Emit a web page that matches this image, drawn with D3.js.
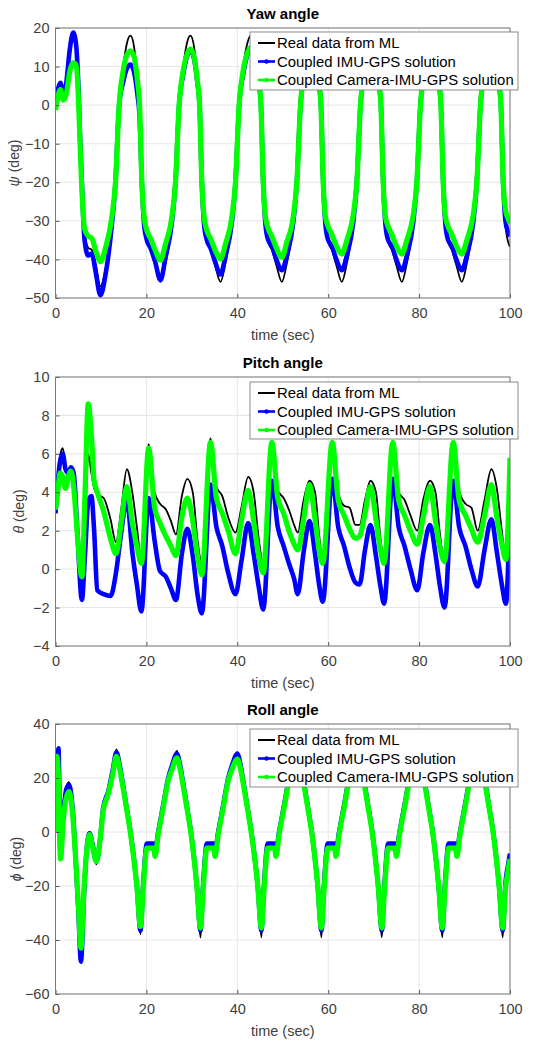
<!DOCTYPE html>
<html>
<head>
<meta charset="utf-8">
<script src="https://cdn.jsdelivr.net/npm/d3@7"></script>
<style>
body { margin: 0; background: #fff; }
text { font-family: "Liberation Sans", Arial, sans-serif; }
</style>
</head>
<body>
<script>
// ---- data ----
var seriesNames = ["Real data from ML", "Coupled IMU-GPS solution", "Coupled Camera-IMU-GPS solution"];

var yawTime = [0, 0.5, 1.1, 1.7, 2.4, 3.1, 3.9, 4.5, 5.0, 5.4, 5.8, 6.4, 7.2, 8.0, 8.8, 9.9,
  11.0, 12.4, 13.2, 14.0, 14.9, 15.7, 16.5, 17.3, 18.0, 18.5, 19.0, 19.5, 20.1, 20.9, 21.9, 23.1,
  24.2, 25.6, 26.4, 27.2, 28.1, 28.9, 29.7, 30.5, 31.2, 31.7, 32.2, 32.7, 33.3, 34.1, 35.1, 36.3,
  37.4, 38.8, 39.6, 40.4, 41.3, 42.2, 43.0, 43.9, 44.7, 45.2, 45.7, 46.2, 46.8, 47.6, 48.6, 49.8,
  50.9, 52.3, 53.1, 53.9, 54.8, 55.6, 56.4, 57.2, 57.9, 58.4, 58.9, 59.4, 60.0, 60.8, 61.8, 63.0,
  64.1, 65.5, 66.3, 67.1, 68.0, 68.8, 69.6, 70.4, 71.1, 71.6, 72.1, 72.6, 73.2, 74.0, 75.0, 76.2,
  77.3, 78.7, 79.5, 80.3, 81.2, 82.0, 82.8, 83.6, 84.3, 84.8, 85.3, 85.8, 86.4, 87.2, 88.2, 89.4,
  90.5, 91.9, 92.7, 93.5, 94.4, 95.2, 96.0, 96.8, 97.5, 98.0, 98.5, 99.0, 99.6, 100];
var yawReal = [0, 3, 5.5, 2, 6, 14, 18.5, 15, 5, -10, -22, -33, -37, -37.5, -41, -47,
  -42.5, -31, -20, 0, 10, 16, 18, 15, 7, 0, -20, -31, -35.5, -37.5, -41.5, -45.8,
  -41, -31, -20, 0, 10, 16, 18, 15, 7, 0, -20, -31, -35.5, -37.5, -41.5, -45.8,
  -41, -31, -20, 0, 10, 16, 18, 15, 7, 0, -20, -31, -35.5, -37.5, -41.5, -45.8,
  -41, -31, -20, 0, 10, 16, 18, 15, 7, 0, -20, -31, -35.5, -37.5, -41.5, -45.8,
  -41, -31, -20, 0, 10, 16, 18, 15, 7, 0, -20, -31, -35.5, -37.5, -41.5, -45.8,
  -41, -31, -20, 0, 10, 16, 18, 15, 7, 0, -20, -31, -35.5, -37.5, -41.5, -45.8,
  -41, -31, -20, 0, 10, 16, 18, 15, 7, 0, -20, -31, -35.5, -36.7];
var yawImu = [0.5, 4, 5.8, 1.8, 6, 14, 18.8, 16, 6, -8, -20, -35, -39, -38.5, -43, -49.3,
  -44, -31, -20, 0, 6, 9.5, 10.5, 8.5, 3, -3, -20, -31, -35, -37, -40.5, -45.4,
  -39.5, -30.5, -20, 0, 8, 12.5, 14, 12, 6, 0, -20, -31, -35, -37, -40.5, -43.9,
  -39, -30.5, -20, 0, 8, 13, 14.5, 12.5, 6, 0, -20, -31, -35, -36.5, -40, -42.8,
  -39, -30.5, -20, 0, 8, 13, 14.5, 12.5, 6, 0, -20, -31, -35, -36.5, -40, -42.8,
  -39, -30.5, -20, 0, 8, 13, 14.5, 12.5, 6, 0, -20, -31, -35, -36.5, -40, -42.8,
  -39, -30.5, -20, 0, 8, 13, 14.5, 12.5, 6, 0, -20, -31, -35, -36.5, -40, -42.8,
  -39, -30.5, -20, 0, 8, 13, 14.5, 12.5, 6, 0, -20, -30, -33, -34];
var yawCam = [-1.3, 2, 4, 1.3, 3, 8.5, 11, 10.5, 3, -10, -22, -32, -34, -34.5, -37.5, -40.6,
  -37, -29, -20, 0, 9, 13, 14, 12.5, 6.5, 0, -20, -29, -32.5, -34.5, -37.5, -40.2,
  -36, -29, -20, 0, 9, 13, 14.5, 12.5, 6.5, 0, -20, -29, -32.5, -34.5, -37.5, -39.9,
  -36, -29, -20, 0, 9, 13.5, 15, 13, 6.5, 0, -20, -29, -32, -34, -37, -39.5,
  -35.5, -29, -20, 0, 9, 13.5, 15, 13, 6.5, 0, -20, -29, -31.5, -33.5, -36.5, -38.6,
  -35, -28.5, -20, 0, 9, 13.5, 15, 13, 6.5, 0, -20, -29, -31.5, -33.5, -36.5, -38.6,
  -35, -28.5, -20, 0, 9, 13.5, 15, 13, 6.5, 0, -20, -29, -31.5, -33.5, -36.5, -38.6,
  -35, -28.5, -20, 0, 9, 13.5, 15, 13, 6.5, 0, -20, -27, -29.5, -30.6];

var pitchTime = [0, 0.5, 1.0, 1.6, 2.2, 2.8, 3.4, 4.0, 4.8, 5.8, 6.5, 7.2, 7.9, 8.5, 9.2,
  10.6, 12.1, 13.3, 14.4, 15.7, 16.9, 17.9, 18.9, 20.5, 21.8, 23.0, 24.3, 25.4, 26.5,
  27.8, 29.0, 30.2, 31.3, 32.2, 34.1, 35.4, 36.7, 38.0, 39.6, 40.9, 42.4, 43.6, 44.7, 45.7,
  47.6, 48.9, 50.2, 51.5, 52.5, 53.3, 54.6, 55.9, 57.1, 58.0, 58.8, 60.9, 62.2, 63.5, 64.7,
  66.0, 66.9, 68.1, 69.3, 70.5, 71.5, 72.3, 74.2, 75.5, 76.8, 78.1, 79.6, 80.9, 82.4, 83.6,
  84.6, 85.6, 87.5, 88.8, 90.2, 91.5, 92.9, 94.4, 95.9, 97.1, 98.2, 99.1, 100];
var pitchReal = [3.0, 4.8, 5.9, 6.3, 5.4, 5.0, 5.3, 4.8, 2.0, -1.2, 2.0, 6.0, 5.0, 4.2, 3.9,
  3.7, 2.6, 1.4, 3.0, 5.2, 4.0, 2.2, 0.5, 6.5, 4.0, 3.4, 3.1, 2.5, 1.8,
  3.8, 4.7, 4.0, 1.4, 0.3, 6.8, 4.3, 3.8, 2.7, 1.9, 3.2, 4.8, 4.0, 1.6, 0.3,
  6.5, 4.1, 3.7, 3.0, 2.3, 1.9, 3.6, 4.6, 4.0, 1.8, 0.4, 6.6, 4.0, 3.3, 3.2,
  2.3, 2.3, 3.6, 4.6, 4.0, 1.6, 0.4, 6.6, 4.0, 3.6, 2.8, 2.0, 3.6, 4.6, 4.0,
  1.8, 0.3, 6.6, 4.1, 3.4, 3.2, 2.0, 3.6, 5.2, 4.2, 2.0, 0.4, 2.0];
var pitchImu = [2.9, 4.5, 5.6, 6.0, 5.2, 5.0, 5.3, 5.0, 2.0, -1.6, 0.8, 3.5, 3.8, 2.0, -1.1,
  -1.3, -1.4, -0.2, 1.8, 3.6, 0.9, -0.8, -2.2, 3.7, 1.5, -0.1, -0.4, -1.0, -1.6,
  0.8, 2.1, 0.7, -1.4, -2.3, 4.4, 2.2, 1.2, -0.2, -1.3, 0.4, 2.4, 0.8, -0.9, -2.1,
  4.6, 2.2, 1.2, 0.2, -0.5, -1.3, 0.9, 2.5, 0.8, -0.8, -1.7, 4.7, 2.2, 1.2, 0.1,
  -0.7, -0.8, 1.0, 2.3, 0.7, -0.9, -1.8, 4.7, 2.2, 1.2, 0.0, -1.1, 0.8, 2.3, 0.8,
  -0.9, -2.0, 4.6, 2.2, 1.2, 0.0, -0.9, 1.0, 2.6, 0.9, -0.8, -1.8, 3.7];
var pitchCam = [3.1, 4.0, 5.0, 4.8, 4.2, 4.8, 5.1, 4.3, 1.8, -0.4, 4.0, 8.6, 7.0, 4.6, 4.0,
  3.0, 1.6, 0.8, 2.3, 4.3, 2.4, 1.2, 0.3, 6.3, 3.2, 2.4, 1.7, 1.2, 0.7,
  2.7, 3.7, 2.5, 0.6, -0.3, 6.6, 3.7, 2.9, 2.0, 0.8, 2.5, 4.1, 2.5, 0.7, -0.2,
  6.6, 3.7, 2.9, 1.9, 1.3, 1.0, 2.6, 4.4, 2.6, 1.0, 0.3, 6.6, 3.6, 2.8, 2.1,
  1.6, 1.7, 2.9, 4.3, 2.6, 1.0, 0.3, 6.6, 3.6, 2.8, 2.0, 1.3, 2.7, 4.3, 2.5,
  1.1, 0.4, 6.6, 3.6, 2.8, 2.1, 1.4, 2.8, 4.4, 2.7, 1.3, 0.5, 5.8];

var rollTime = [0, 0.3, 0.65, 1.1, 1.7, 2.4, 3.0, 3.8, 4.5, 5.0, 5.6, 6.3, 7.0, 7.5, 8.2, 9.0, 9.8, 10.5, 11.6, 12.6, 13.4,
  14.1, 14.7, 15.6, 16.5, 17.9, 18.7, 19.3, 20.1, 21.6, 21.9, 22.6, 23.7, 24.8, 25.7, 26.7,
  27.4, 28.0, 28.9, 29.8, 31.1, 31.9, 32.5, 33.3, 34.8, 35.1, 35.8, 36.9, 38.0, 38.9, 40.0,
  40.7, 41.3, 42.2, 43.1, 44.5, 45.3, 45.9, 46.7, 48.2, 48.5, 49.2, 50.3, 51.4, 52.3, 53.3,
  54.0, 54.6, 55.5, 56.4, 57.7, 58.5, 59.1, 59.9, 61.4, 61.7, 62.4, 63.5, 64.6, 65.5, 66.6,
  67.3, 67.9, 68.8, 69.7, 71.0, 71.8, 72.4, 73.2, 74.7, 75.0, 75.7, 76.8, 77.9, 78.8, 79.9,
  80.6, 81.2, 82.1, 83.0, 84.3, 85.1, 85.7, 86.5, 88.0, 88.3, 89.0, 90.1, 91.2, 92.1, 93.2,
  93.9, 94.5, 95.4, 96.3, 97.6, 98.4, 99.0, 99.6, 100];
var rollReal = [0, 22, 27, -9, 6, 17, 18.5, 8, -12, -27, -43, -20, -4, 0, -5, -12, -3, 9, 15, 23, 30.6,
  25.5, 19.5, 10, 0, -20, -37.9, -20, -5, -5, -8, 0, 10, 20, 25, 30,
  25, 19, 10, 0, -20, -39.1, -20, -5, -5, -8, 0, 10, 20, 25, 29.6,
  25, 19, 10, 0, -20, -39, -20, -5, -5, -8, 0, 10, 20, 25, 29.5,
  25, 19, 10, 0, -20, -39, -20, -5, -5, -8, 0, 10, 20, 25, 29.5,
  25, 19, 10, 0, -20, -39, -20, -5, -5, -8, 0, 10, 20, 25, 29.5,
  25, 19, 10, 0, -20, -39, -20, -5, -5, -8, 0, 10, 20, 25, 29.5,
  25, 19, 10, 0, -20, -39, -20, -13, -9];
var rollImu = [0, 24, 31, -9, 6, 16, 17.5, 8, -12, -28, -48, -22, -4, -0.5, -5, -11, -3, 9, 15, 23, 29.5,
  25, 19, 9.5, 0, -20, -36.5, -19, -4.3, -4.3, -7, 0, 10, 20, 25, 29,
  25, 19, 9.5, 0, -20, -36.5, -19, -4.3, -4.3, -7, 0, 10, 20, 25, 29,
  25, 19, 9.5, 0, -20, -36.5, -19, -4.3, -4.3, -7, 0, 10, 20, 25, 29,
  25, 19, 9.5, 0, -20, -36.5, -19, -4.3, -4.3, -7, 0, 10, 20, 25, 29,
  25, 19, 9.5, 0, -20, -36.5, -19, -4.3, -4.3, -7, 0, 10, 20, 25, 29,
  25, 19, 9.5, 0, -20, -36.5, -19, -4.3, -4.3, -7, 0, 10, 20, 25, 29,
  25, 19, 9.5, 0, -20, -36.5, -19, -12, -8];
var rollCam = [0, 28, 20, -10, 4, 13, 15, 6, -12, -26, -43, -20, -5, -1, -6, -11, -3, 8, 14, 21.5, 28,
  23.5, 18, 9, -0.5, -20, -35, -21, -6, -6, -9, -1, 9, 19, 23.5, 27.5,
  23.5, 18, 9, -0.5, -20, -35.5, -21, -6, -6, -9, -1, 9, 19, 23.5, 27,
  23.5, 18, 9, -0.5, -20, -35.5, -21, -6, -6, -9, -1, 9, 19, 23.5, 27,
  23.5, 18, 9, -0.5, -20, -35.5, -21, -6, -6, -9, -1, 9, 19, 23.5, 27,
  23.5, 18, 9, -0.5, -20, -35.5, -21, -6, -6, -9, -1, 9, 19, 23.5, 27,
  23.5, 18, 9, -0.5, -20, -35.5, -21, -6, -6, -9, -1, 9, 19, 23.5, 27,
  23.5, 18, 9, -0.5, -20, -35.5, -21, -14, -10];

var xTicks = [0, 20, 40, 60, 80, 100];
var yawTicks = [-50, -40, -30, -20, -10, 0, 10, 20];
var pitchTicks = [-4, -2, 0, 2, 4, 6, 8, 10];
var rollTicks = [-60, -40, -20, 0, 20, 40];

// ---- layout ----
var width = 534, height = 1041;
var colors = ["#000000", "#0000ff", "#00ff00"];
var widths = [1.8, 4.6, 5.2];

var svg = d3.select("body").append("svg").attr("width", width).attr("height", height);

var x = d3.scaleLinear().domain([0, 100]).range([55.5, 510]);

var panels = [
  {id: "yaw", title: "Yaw angle", top: 28, bottom: 298, dom: [-50, 20], ticks: yawTicks,
   sym: "\u03c8", labX: 19, time: yawTime, ys: [yawReal, yawImu, yawCam],
   leg: {x: 250, y: 32, w: 268, h: 58}},
  {id: "pitch", title: "Pitch angle", top: 377, bottom: 646, dom: [-4, 10], ticks: pitchTicks,
   sym: "\u03b8", labX: 24, time: pitchTime, ys: [pitchReal, pitchImu, pitchCam],
   leg: {x: 250, y: 382, w: 268, h: 57}},
  {id: "roll", title: "Roll angle", top: 724, bottom: 994, dom: [-60, 40], ticks: rollTicks,
   sym: "\u03d5", labX: 21, time: rollTime, ys: [rollReal, rollImu, rollCam],
   leg: {x: 250, y: 729, w: 268, h: 58}}
];

panels.forEach(function(p) {
  var y = d3.scaleLinear().domain(p.dom).range([p.bottom, p.top]);
  var g = svg.append("g").attr("class", "panel-" + p.id);

  // grid
  g.selectAll(".gx").data(xTicks).enter().append("line")
    .attr("x1", function(d) { return x(d); }).attr("x2", function(d) { return x(d); })
    .attr("y1", p.top).attr("y2", p.bottom)
    .attr("stroke", "#e6e6e6").attr("stroke-width", 1);
  g.selectAll(".gy").data(p.ticks).enter().append("line")
    .attr("x1", x(0)).attr("x2", x(100))
    .attr("y1", function(d) { return y(d); }).attr("y2", function(d) { return y(d); })
    .attr("stroke", "#e6e6e6").attr("stroke-width", 1);

  // clip
  svg.append("clipPath").attr("id", "clip-" + p.id).append("rect")
    .attr("x", x(0)).attr("y", p.top).attr("width", x(100) - x(0)).attr("height", p.bottom - p.top);

  var line = d3.line()
    .x(function(d) { return x(d[0]); })
    .y(function(d) { return y(d[1]); })
    .curve(d3.curveMonotoneX);

  var lines = g.append("g").attr("clip-path", "url(#clip-" + p.id + ")");
  p.ys.forEach(function(vals, k) {
    var pts = p.time.map(function(t, i) { return [t, vals[i]]; });
    lines.append("path").datum(pts)
      .attr("d", line)
      .attr("fill", "none")
      .attr("stroke", colors[k])
      .attr("stroke-width", widths[k])
      .attr("stroke-linejoin", "round");
  });

  // axes
  var yAxis = d3.axisLeft(y).tickValues(p.ticks).tickSizeInner(-4).tickSizeOuter(0).tickPadding(6);
  var xAxis = d3.axisBottom(x).tickValues(xTicks).tickSizeInner(-4).tickSizeOuter(0).tickPadding(10);
  var ya = g.append("g").attr("transform", "translate(" + x(0) + ",0)").call(yAxis);
  var xa = g.append("g").attr("transform", "translate(0," + p.bottom + ")").call(xAxis);
  [ya, xa].forEach(function(a) {
    a.select(".domain").remove();
    a.selectAll("line").attr("stroke", "#555");
    a.selectAll("text").attr("fill", "#404040").style("font-size", "14.5px")
      .style("font-family", "'Liberation Sans', Arial, sans-serif");
  });

  // box
  g.append("rect").attr("x", x(0)).attr("y", p.top)
    .attr("width", x(100) - x(0)).attr("height", p.bottom - p.top)
    .attr("fill", "none").attr("stroke", "#7a7a7a").attr("stroke-width", 1);

  // title
  g.append("text").attr("x", (x(0) + x(100)) / 2).attr("y", p.top - 9)
    .attr("text-anchor", "middle").attr("font-weight", "bold")
    .attr("font-size", "15px").attr("fill", "#000").text(p.title);

  // x label
  g.append("text").attr("x", (x(0) + x(100)) / 2).attr("y", p.bottom + 42)
    .attr("text-anchor", "middle").attr("font-size", "14.5px").attr("fill", "#404040")
    .text("time (sec)");

  // y label
  var yl = g.append("text")
    .attr("transform", "translate(" + p.labX + "," + ((p.top + p.bottom) / 2) + ") rotate(-90)")
    .attr("text-anchor", "middle").attr("font-size", "14px").attr("fill", "#404040");
  yl.append("tspan").attr("font-style", "italic").text(p.sym);
  yl.append("tspan").text(" (deg)");

  // legend
  var L = p.leg;
  var lg = g.append("g");
  lg.append("rect").attr("x", L.x).attr("y", L.y).attr("width", L.w).attr("height", L.h)
    .attr("fill", "#fff").attr("stroke", "#6e6e6e").attr("stroke-width", 0.8);
  seriesNames.forEach(function(name, k) {
    var cy = L.y + 11 + k * 18.5;
    lg.append("line").attr("x1", L.x + 8).attr("x2", L.x + 25)
      .attr("y1", cy).attr("y2", cy)
      .attr("stroke", colors[k]).attr("stroke-width", k === 0 ? 2 : 2.6);
    if (k > 0) {
      lg.append("circle").attr("cx", L.x + 16.5).attr("cy", cy).attr("r", 2.2).attr("fill", colors[k]);
    }
    lg.append("text").attr("x", L.x + 27).attr("y", cy + 5)
      .attr("font-size", "14.9px").attr("fill", "#000").text(name);
  });
});
</script>
</body>
</html>
